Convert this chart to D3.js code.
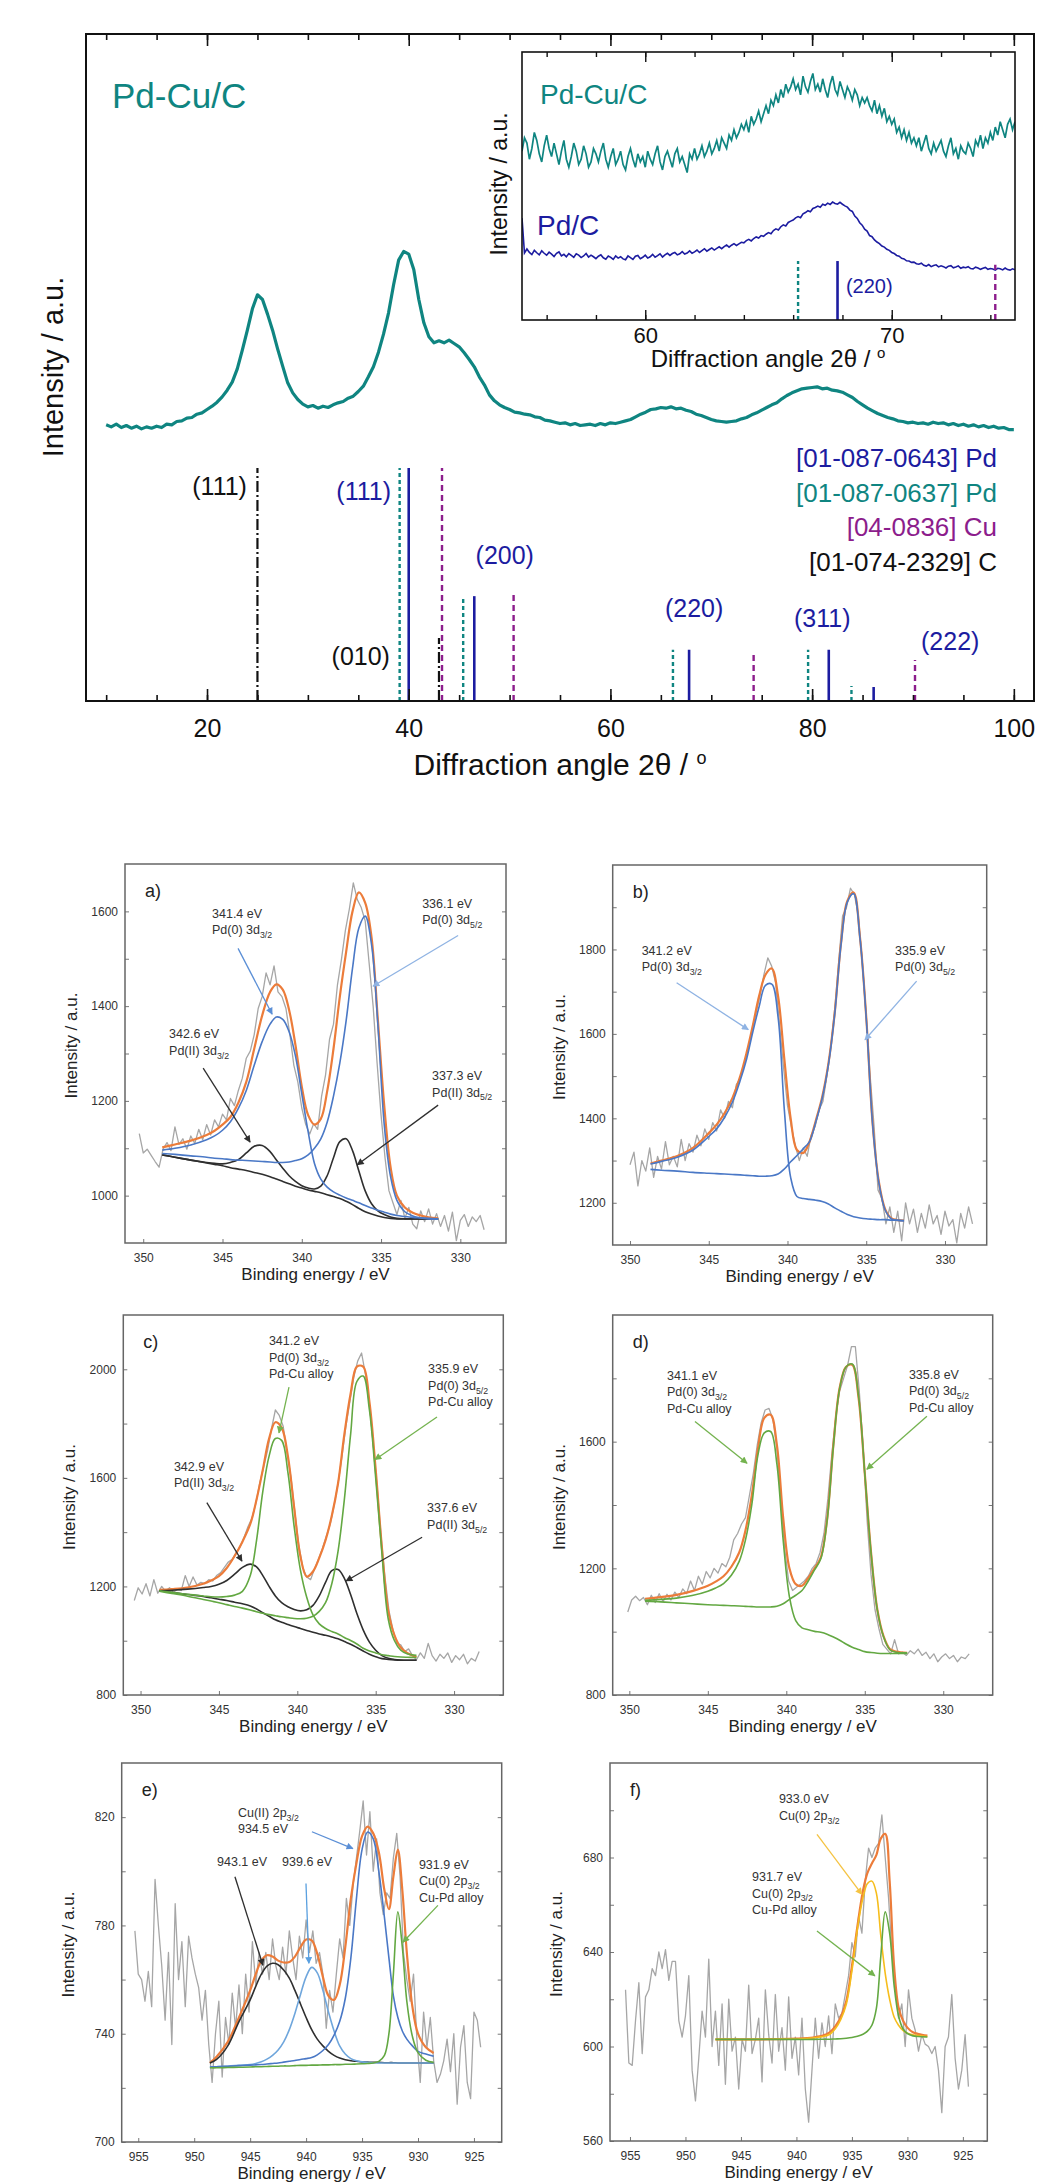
<!DOCTYPE html>
<html>
<head>
<meta charset="utf-8">
<title>Pd-Cu/C XRD and XPS</title>
<script src="https://cdn.jsdelivr.net/npm/d3@7"></script>
<style>
  body { margin: 0; background: #fff; }
  svg { display: block; font-family: "Liberation Sans", Arial, Helvetica, sans-serif; }
</style>
</head>
<body>
<svg id="fig" width="1043" height="2184"></svg>
<script>
// ---------- XRD data (Pd-Cu/C), 10-100 deg, 0.5 deg step ----------
var xrdStart = 10, xrdStep = 0.5;
var xrdPdCu = [
  41.4,41.1,41.5,41.0,41.3,40.9,41.2,40.8,41.1,40.9,
  41.2,41.0,41.5,41.4,41.9,42.0,42.4,42.5,43.0,43.2,
  43.7,44.2,44.8,45.6,46.6,47.8,49.8,52.6,55.6,58.8,
  60.9,60.2,58.0,55.6,52.8,50.2,47.7,46.2,45.2,44.5,
  44.1,44.3,43.9,44.2,44.0,44.4,44.7,44.9,45.4,45.7,
  46.4,47.2,48.6,50.1,52.3,55.0,58.2,62.4,66.1,67.4,
  67.0,64.7,60.2,56.7,54.6,53.7,54.0,53.7,54.1,53.6,
  53.1,52.2,51.2,50.1,48.6,47.4,45.9,45.0,44.4,44.0,
  43.7,43.3,43.2,43.0,42.9,42.6,42.5,42.1,42.0,41.8,
  41.6,41.7,41.4,41.6,41.3,41.4,41.5,41.3,41.6,41.4,
  41.7,41.6,41.8,42.0,42.2,42.6,43.0,43.3,43.7,43.8,
  44.0,43.9,44.1,43.8,43.9,43.6,43.4,43.0,42.8,42.5,
  42.2,42.0,41.9,41.8,41.9,42.0,42.3,42.5,42.9,43.2,
  43.6,44.0,44.4,44.7,45.3,45.8,46.2,46.5,46.8,46.9,
  47.0,47.1,46.8,46.9,46.6,46.5,46.3,45.9,45.5,44.9,
  44.4,43.9,43.5,43.1,42.8,42.5,42.3,42.0,41.9,41.7,
  41.8,41.6,41.7,41.5,41.8,41.6,41.7,41.4,41.6,41.3,
  41.5,41.2,41.4,41.1,41.3,41.0,41.2,40.9,41.0,40.7,
  40.7];

// inset, 55-75 deg, 0.1 deg step
var insetStart = 55, insetStep = 0.1;
var insetPdCu = [
  63,68,66,60,64,70,67,62,59,65, 69,64,61,66,62,58,63,67,60,57,
  61,66,63,58,60,65,62,57,59,64, 62,59,63,66,60,57,61,64,58,60,
  63,58,56,61,64,60,57,62,59,61, 57,63,60,58,62,65,59,56,61,63,
  60,57,62,64,59,61,58,55,62,60, 64,60,62,65,61,63,66,62,64,67,
  63,68,66,64,69,67,71,68,70,73, 71,74,70,76,73,75,78,74,77,80,
  77,82,80,84,81,86,83,88,85,87, 90,86,88,84,91,87,85,89,92,86,
  88,85,90,86,83,88,91,86,84,89, 86,83,87,85,82,86,84,80,83,81,
  83,80,78,82,77,80,76,79,74,76, 73,75,70,72,68,71,67,70,66,68,
  65,68,63,66,69,64,62,66,63,65, 67,63,61,65,68,62,64,60,65,63,
  62,66,64,61,67,65,69,64,68,66, 70,67,72,69,74,71,68,73,75,71,
  74];
var insetPd = [
  38,25,26.5,25.2,24.4,26,25.1,24.3,25.8,24.9, 24.2,25.3,24.6,23.7,24.9,25.4,23.9,24.5,23.6,24.8,
  24.1,23.4,24.7,24.2,23.3,23.9,24.8,23.5,24.2,23.6, 22.9,23.8,24.3,23.2,22.7,23.9,23.4,22.6,23.9,23.1,
  23.6,22.8,22.5,23.9,23.3,22.6,23.8,24.1,22.9,23.4, 24.2,23.1,23.6,24.5,23.4,24,24.7,23.5,24.3,24.9,
  24.1,24.8,25.2,24.3,24.7,25.5,24.6,25,25.8,24.9, 25.4,26.1,25.2,25.9,26.6,25.7,26.3,26.9,26.1,26.7,
  27.3,26.6,27.4,28,27.2,27.9,28.5,27.8,28.4,29, 28.8,29.6,30.1,29.5,30.4,31,30.6,31.5,31.2,32,
  32.6,32.2,33.4,34,33.6,34.8,35.5,35.1,36.4,36.9, 37.3,38.1,38.6,38.2,39.6,40.1,40.8,40.4,41.6,42,
  42.5,42.1,43.2,42.8,43.6,43.1,44,43.5,43.2,43.9, 43.2,42.6,42.1,41,40.5,38.8,37.9,36.3,35.4,33.9,
  33.2,31.5,31.1,29.9,29.1,28.5,27.6,27.2,26.4,26, 25.2,24.8,24.1,23.8,23,22.8,22.1,22,21.5,21.6,
  21,20.8,21.2,20.4,20.1,20.7,19.9,20.3,20.6,19.8, 20.2,19.9,19.4,20.1,20.3,19.5,19.8,20.2,19.3,19.7,
  19.5,19.9,19.2,19.1,19.7,19.4,18.9,19.3,19.6,18.9, 19.2,19,18.6,19.3,19.1,18.7,19.4,18.8,18.6,19.1,
  18.7];

// reference patterns (position in deg, relative intensity %)
var pdRefPos = [40.0, 46.5, 67.8, 81.65, 86.1];
var pdRefInt = [100, 45, 22, 22, 6];
var pdaRefPos = [39.1, 45.4, 66.2, 79.6, 83.9];
var pdaRefInt = [100, 45, 22, 22, 6.4];
var cuRefPos = [43.3, 50.4, 74.2, 90.2];
var cuRefInt = [100, 46, 20.6, 17.6];
var carbRefPos = [25.0, 43.0];
var carbRefInt = [100, 27];
var xrdTicks = [20, 40, 60, 80, 100];
var insetTicks = [60, 70];
var hklText = ["(111)", "(010)", "(111)", "(200)", "(220)", "(311)", "(222)"];
var hklPos  = [23.96, 38.14, 38.24, 46.63, 65.41, 78.2, 90.8];
var hklInt  = [88.4, 15.5, 86.3, 58.8, 36.1, 31.8, 21.9];
var hklIsC  = [true, true, false, false, false, false, false];
var legendText = ["[01-087-0643] Pd", "[01-087-0637] Pd", "[04-0836] Cu", "[01-074-2329] C"];

// ---------- XPS a) Pd 3d, Pd/C ----------
var aRawStart = 350.25, aRawStep = 0.25;
var aRaw = [1131,1090,1098,1085,1072,1060,1098,1112,1095,1145,1108,1120,1098,1126,1110,1140,1118,1150,1128,1160,
  1145,1172,1160,1205,1190,1222,1248,1290,1305,1340,1395,1420,1470,1445,1485,1430,1420,1395,1340,1275,
  1240,1185,1150,1130,1152,1140,1210,1255,1330,1362,1445,1498,1560,1605,1660,1625,1608,1580,1490,1400,
  1280,1170,1080,1010,985,960,990,952,975,940,930,968,945,972,940,962,935,958,925,965,
  905,948,960,935,955,945,958,928];
var aFitBE = [348.8,348,347,346,345.5,345,344.5,344,343.5,343,342.5,342,341.6,341.2,340.8,340.4,340,339.6,339.2,338.8,
  338.4,338,337.6,337.2,336.8,336.4,336,335.6,335.2,334.8,334.4,334,333.5,333,332.5,332,331.4];
var aEnv = [1102,1108,1116,1128,1137,1150,1166,1196,1240,1310,1380,1430,1446,1435,1392,1318,1230,1170,1150,1162,
  1220,1310,1420,1515,1600,1640,1618,1545,1370,1190,1060,1000,975,964,958,954,952];
var aPd0a = [1096,1100,1107,1118,1126,1138,1156,1184,1222,1275,1325,1362,1377,1372,1346,1295,1215,1135,1068,1035,
  1018,1008,1001,995,990,985,979,974,969,965,961,958,956,954,953,952,951];
var aPd0b = [1089,1087,1084,1081,1079,1078,1076,1075,1074,1073,1072,1071,1070,1070,1071,1074,1078,1086,1100,1120,
  1155,1210,1280,1370,1480,1565,1590,1530,1360,1150,1040,990,966,957,953,951,950];
var aPdII = [1086,1081,1075,1070,1068,1067,1070,1076,1090,1104,1106,1093,1075,1058,1042,1030,1021,1016,1014,1020,
  1042,1080,1114,1120,1095,1052,1010,983,968,960,955,952,951,951,951,951,951];
var aBg = [1086,1081,1075,1069,1066,1063,1059,1056,1053,1049,1045,1040,1035,1030,1025,1020,1016,1012,1009,1006,
  1002,998,994,988,981,973,966,961,957,954,952,951,951,951,951,951,951];

// ---------- XPS b) Pd 3d ----------
var bRawStart = 350.0, bRawStep = 0.25;
var bRaw = [1290,1320,1240,1300,1275,1330,1260,1310,1280,1345,1290,1310,1285,1350,1300,1340,1320,1360,1335,1375,
  1350,1390,1370,1420,1400,1440,1425,1480,1495,1530,1560,1610,1650,1690,1740,1780,1760,1720,1620,1520,
  1430,1380,1335,1300,1330,1310,1360,1380,1420,1440,1500,1570,1660,1770,1880,1900,1945,1930,1880,1770,
  1640,1500,1380,1230,1210,1150,1190,1130,1180,1110,1200,1150,1185,1130,1175,1140,1195,1150,1170,1125,
  1180,1145,1160,1105,1175,1140,1190,1150];
var bFitBE = [348.7,348,347,346,345,344.5,344,343.5,343,342.6,342.2,341.8,341.4,341,340.6,340.2,339.8,339.4,339,338.6,
  338.2,337.8,337.4,337,336.6,336.2,335.8,335.4,335,334.6,334.2,333.8,333.4,333,332.6];
var bEnv = [1293,1300,1311,1330,1365,1385,1412,1448,1500,1555,1620,1690,1740,1755,1690,1540,1400,1325,1318,1345,
  1395,1450,1530,1650,1815,1915,1935,1830,1640,1390,1250,1185,1163,1159,1158];
var bPd0a = [1292,1298,1308,1325,1357,1375,1402,1438,1490,1540,1605,1665,1715,1718,1640,1420,1260,1215,1210,1208,
  1206,1203,1197,1188,1180,1172,1167,1164,1162,1161,1160,1160,1159,1159,1158];
var bPd0b = [1279,1277,1275,1272,1270,1269,1268,1267,1266,1265,1264,1263,1263,1264,1268,1280,1297,1312,1328,1345,
  1392,1447,1527,1647,1812,1912,1932,1828,1638,1388,1248,1183,1162,1158,1157];

// ---------- XPS c) Pd 3d, Pd-Cu/C ----------
var cRawStart = 350.4, cRawStep = 0.25;
var cRaw = [1148,1195,1172,1210,1165,1225,1175,1200,1182,1195,1178,1190,1185,1240,1200,1235,1205,1215,1210,1225,
  1220,1240,1250,1270,1290,1300,1325,1345,1380,1420,1450,1505,1580,1640,1700,1780,1850,1830,1790,1690,
  1600,1470,1350,1270,1235,1225,1265,1300,1340,1385,1430,1500,1580,1680,1790,1880,1970,2030,2060,1980,
  1870,1720,1560,1380,1230,1110,1040,990,985,960,970,945,930,955,935,990,945,925,950,935,
  955,920,945,930,950,915,935,925,960];
var cFitBE = [348.8,348,347,346,345.5,345,344.5,344,343.5,343,342.6,342.2,341.8,341.4,341,340.6,340.2,339.8,339.4,339,
  338.6,338.2,337.8,337.4,337,336.6,336.2,335.8,335.4,335,334.6,334.2,333.8,333.4,333,332.4];
var cEnv = [1187,1190,1196,1210,1222,1238,1268,1312,1365,1430,1520,1630,1745,1805,1785,1680,1490,1310,1236,1255,
  1305,1370,1460,1580,1760,1910,2010,2010,1880,1630,1340,1110,1020,975,955,940];
var cPd0a = [1184,1178,1171,1165,1162,1161,1163,1168,1182,1240,1370,1550,1680,1745,1738,1620,1420,1260,1160,1095,
  1062,1045,1034,1025,1012,1001,988,972,962,955,948,945,942,940,939,938];
var cPd0b = [1182,1174,1164,1152,1146,1140,1133,1126,1120,1113,1107,1101,1096,1092,1088,1085,1082,1081,1083,1090,
  1108,1140,1210,1330,1520,1760,1955,1975,1850,1600,1320,1080,1000,965,952,946];
var cPdII = [1184,1186,1190,1196,1200,1208,1222,1245,1270,1282,1272,1240,1200,1165,1140,1125,1115,1110,1114,1130,
  1165,1215,1258,1262,1230,1170,1100,1040,995,965,945,935,931,929,928,928];
var cBg = [1184,1178,1170,1163,1158,1153,1148,1142,1136,1128,1117,1103,1090,1077,1068,1060,1052,1045,1038,1031,
  1025,1020,1014,1007,997,987,975,962,950,941,934,931,929,928,928,928];

// ---------- XPS d) Pd 3d ----------
var dRawStart = 350.1, dRawStep = 0.25;
var dRaw = [1062,1100,1112,1098,1108,1085,1115,1092,1120,1095,1118,1100,1125,1108,1135,1120,1160,1130,1175,1150,
  1190,1170,1200,1185,1215,1205,1235,1290,1310,1340,1360,1430,1500,1590,1660,1700,1705,1670,1580,1420,
  1260,1160,1130,1140,1150,1160,1175,1200,1215,1250,1310,1420,1560,1680,1760,1800,1840,1900,1900,1760,
  1580,1350,1180,1070,1010,960,945,930,975,930,935,925,940,930,945,925,935,915,930,905,
  920,930,915,925,905,920,915,930];
var dFitBE = [349,348,347,346,345,344.5,344,343.5,343,342.6,342.2,341.8,341.4,341,340.6,340.2,339.8,339.4,339,338.6,
  338.2,337.8,337.4,337,336.6,336.2,335.8,335.4,335,334.6,334.2,333.8,333.4,333,332.3];
var dEnv = [1104,1109,1116,1128,1145,1158,1175,1205,1250,1320,1430,1580,1675,1685,1590,1360,1200,1150,1145,1170,
  1200,1235,1355,1590,1770,1836,1843,1740,1500,1250,1070,985,945,937,933];
var dPd0a = [1099,1102,1106,1114,1128,1138,1152,1178,1222,1290,1400,1560,1628,1632,1530,1290,1110,1035,1012,1006,
  1001,998,992,983,973,961,951,944,937,934,932,931,931,931,931];
var dPd0b = [1096,1094,1091,1088,1085,1084,1083,1082,1081,1080,1079,1078,1078,1078,1080,1088,1102,1115,1130,1160,
  1195,1230,1350,1585,1768,1836,1845,1745,1500,1248,1068,983,943,935,933];

// ---------- XPS e) Cu 2p, Pd-Cu/C ----------
var eRawStart = 955.3, eRawStep = 0.3;
var eRaw = [778,762,760,752,763,750,797,780,765,745,770,736,788,760,774,750,776,768,762,757,
  745,756,736,722,740,752,724,746,736,755,742,758,740,762,748,774,758,770,762,770,
  760,775,765,760,772,762,778,768,760,776,768,782,770,778,766,770,762,742,756,748,
  762,775,768,790,780,795,805,815,826,806,822,800,812,792,784,792,790,805,814,798,
  770,760,752,762,738,722,748,735,746,730,722,725,730,738,726,740,714,735,743,722,
  716,748,745,735];
var eFitBE = [948.6,948,947,946,945,944.5,944,943.5,943,942.5,942,941.5,941,940.5,940,939.5,939,938.5,938,937.5,
  937,936.5,936,935.5,935,934.5,934,933.5,933,932.6,932.2,931.8,931.4,931,930.5,930,929.3,928.6];
var eEnv = [729.2,731.5,737,746,756,762,767,769,768.5,767,766.3,766.5,768.5,772,774.8,774.5,769.5,761,754,752.5,
  758,772,790,803,813,816.5,814,807,793,786,798,808,793,770,750,740,735,732.9];
var eCu943 = [729.2,730.5,735.5,744.5,752.5,757.5,762,765,766,765.5,763.5,760.5,756,751,746,741.5,738,735.5,733.5,732,
  731,730.4,730,729.8,729.6,729.5,729.4,729.4,729.3,729.3,729.3,729.2,729.2,729.2,729.2,729.2,729.2,729.2];
var eCu939 = [727.7,727.8,728,728.3,728.6,729,729.6,730.6,732,734,737,741.5,747.5,754.5,761,764.5,762.5,756,748,741,
  735.5,732.5,730.8,730,729.6,729.4,729.3,729.2,729.2,729.2,729.2,729.2,729.2,729.2,729.2,729.2,729.2,729.2];
var eCu934 = [727.7,727.8,728,728.2,728.4,728.5,728.6,728.8,729,729.2,729.5,729.8,730.1,730.5,730.8,731.2,732.2,733.8,736,739.5,
  744.5,753,768,790,808,814.5,812,800,783,768,754,746,741,738,735.5,733.5,732.5,731.7];
var eCu931 = [727.4,727.4,727.5,727.6,727.7,727.8,727.8,727.9,728,728,728.1,728.1,728.2,728.3,728.3,728.4,728.4,728.5,728.5,728.6,
  728.6,728.7,728.7,728.8,728.9,729,729.2,729.8,732,740,762,785,772,752,739,733,730.2,729.4];

// ---------- XPS f) Cu 2p ----------
var fRawStart = 955.4, fRawStep = 0.3;
var fRaw = [624,593,592,611,627,597,621,624,633,630,640,633,641,628,636,636,611,604,613,630,
  590,577,595,615,604,637,600,615,592,618,584,620,598,604,582,603,598,626,597,603,
  612,585,624,605,593,622,598,608,590,621,595,604,588,612,582,568,590,612,595,610,
  600,613,597,618,612,614,622,630,644,638,655,648,670,684,680,684,686,698,680,663,
  640,625,612,618,600,624,612,607,598,605,601,600,597,600,590,572,600,604,622,595,
  582,590,605,583];
var fFitBE = [947.3,946,944,942,940,938.5,937.5,937,936.5,936,935.5,935,934.5,934,933.6,933.2,932.8,932.4,932,931.6,
  931.2,930.8,930.4,930,929.5,929,928.2];
var fEnv = [603,603,603,603.1,603.3,603.8,604.8,606,608.5,612.5,619.4,634,651,666,673.5,677.5,681,688,690,670,
  634,616.6,611,608,606,605.3,604.6];
var fCu933 = [603,603,603,603.1,603.2,603.6,604.3,605.2,607.5,611.5,618,632,650,663,669,670,665,647,631,620,
  612.5,609,606.8,605.6,605,604.6,604.2];
var fCu931 = [603,603,603,603,603,603,603.1,603.1,603.2,603.3,603.5,603.8,604.3,605.2,606.5,609,616,638,657,648,
  626,613,607.5,605.5,604.5,604.2,604];

// ---------- colours / fonts ----------
var FONT = '"Liberation Sans", Arial, Helvetica, sans-serif';
var colTeal = "#0f8581", colNavy = "#1c1ca0", colPurple = "#8c1d8c", colBlack = "#111";
var colRaw = "#a6a6a6", colOrange = "#ec7c3a", colBlue = "#4a78c6", colLtBlue = "#6fa6dc",
    colGreen = "#63a842", colDark = "#2f2f2f", colYellow = "#f6bd1c";

var svg = d3.select("#fig");
var defs = svg.append("defs");
svg.append("rect").attr("width", 1043).attr("height", 2184).attr("fill", "#fff");

function arrowMarker(color) {
  var id = "ah" + color.replace("#", "");
  if (defs.select("#" + id).empty()) {
    defs.append("marker").attr("id", id).attr("viewBox", "0 0 10 10")
      .attr("refX", 9).attr("refY", 5).attr("markerWidth", 8).attr("markerHeight", 7)
      .attr("markerUnits", "userSpaceOnUse").attr("orient", "auto")
      .append("path").attr("d", "M0,0L10,5L0,10z").attr("fill", color);
  }
  return id;
}

// text with a trailing _{sub} part
function richText(sel, str, size) {
  str.split(/(_\{[^}]*\})/).forEach(function(p) {
    if (!p) return;
    if (p.indexOf("_{") === 0) {
      sel.append("tspan").attr("dy", size * 0.3).attr("font-size", size * 0.7).text(p.slice(2, -1));
    } else {
      sel.append("tspan").text(p);
    }
  });
}

function styleAxis(g, size, color) {
  g.selectAll(".domain").remove();
  g.selectAll(".tick text").filter(function() { return !this.textContent; }).remove();
  g.selectAll(".tick text").attr("font-size", size).attr("font-family", FONT).attr("fill", color);
}

// ================= XRD main panel =================
var xMain = d3.scaleLinear().domain([8, 102]).range([86, 1034]);
var yMain = d3.scaleLinear().domain([0, 100]).range([701, 34]);
var yStick = d3.scaleLinear().domain([0, 100]).range([701, 468]);

defs.append("clipPath").attr("id", "clipMain").append("rect")
  .attr("x", 86).attr("y", 34).attr("width", 948).attr("height", 667);

var main = svg.append("g");
var mainLine = d3.line()
  .x(function(d, i) { return xMain(xrdStart + i * xrdStep); })
  .y(function(d) { return yMain(d); });
main.append("path").attr("clip-path", "url(#clipMain)").attr("d", mainLine(xrdPdCu))
  .attr("fill", "none").attr("stroke", colTeal).attr("stroke-width", 3.2).attr("stroke-linejoin", "round");

var refSets = [
  { pos: carbRefPos, val: carbRefInt, color: colBlack, dash: "11,3,2,3", w: 2.2 },
  { pos: pdaRefPos, val: pdaRefInt, color: colTeal, dash: "4,3", w: 2.4 },
  { pos: cuRefPos, val: cuRefInt, color: colPurple, dash: "6,4", w: 2.4 },
  { pos: pdRefPos, val: pdRefInt, color: colNavy, dash: null, w: 2.6 }
];
refSets.forEach(function(s) {
  main.selectAll(null).data(s.pos).enter().append("line")
    .attr("x1", function(d) { return xMain(d); }).attr("x2", function(d) { return xMain(d); })
    .attr("y1", yStick(0)).attr("y2", function(d, i) { return yStick(s.val[i]); })
    .attr("stroke", s.color).attr("stroke-width", s.w).attr("stroke-dasharray", s.dash);
});

main.selectAll(null).data(hklText).enter().append("text")
  .attr("x", function(d, i) { return xMain(hklPos[i]); })
  .attr("y", function(d, i) { return yStick(hklInt[i]); })
  .attr("text-anchor", function(d, i) { return (i < 3) ? "end" : "start"; })
  .attr("font-size", 25).attr("fill", function(d, i) { return hklIsC[i] ? colBlack : colNavy; })
  .text(function(d) { return d; });

var legendColor = [colNavy, colTeal, colPurple, colBlack];
main.selectAll(null).data(legendText).enter().append("text")
  .attr("x", 997).attr("y", function(d, i) { return 467 + i * 34.5; })
  .attr("text-anchor", "end").attr("font-size", 26)
  .attr("fill", function(d, i) { return legendColor[i]; })
  .text(function(d) { return d; });

main.append("text").attr("x", 112).attr("y", 108).attr("font-size", 35).attr("fill", colTeal).text("Pd-Cu/C");

// axes (ticks point inward)
var axB = main.append("g").attr("transform", "translate(0,701)");
axB.append("g").call(d3.axisBottom(xMain).tickValues(d3.range(10, 101, 5)).tickSize(-6).tickFormat(""));
axB.append("g").call(d3.axisBottom(xMain).tickValues(xrdTicks).tickSize(-12).tickPadding(18).tickFormat(d3.format("d")));
styleAxis(axB, 25, "#111");
var axT = main.append("g").attr("transform", "translate(0,34)");
axT.append("g").call(d3.axisTop(xMain).tickValues(d3.range(10, 101, 5)).tickSize(-6).tickFormat(""));
axT.append("g").call(d3.axisTop(xMain).tickValues(xrdTicks).tickSize(-12).tickFormat(""));
styleAxis(axT, 25, "#111");
main.selectAll(".tick line").attr("stroke", "#111").attr("stroke-width", 1.6);

main.append("rect").attr("x", 86).attr("y", 34).attr("width", 948).attr("height", 667)
  .attr("fill", "none").attr("stroke", "#111").attr("stroke-width", 2);

var mt = main.append("text").attr("x", 560).attr("y", 775).attr("text-anchor", "middle")
  .attr("font-size", 30).attr("fill", "#111");
mt.append("tspan").text("Diffraction angle 2\u03b8 / ");
mt.append("tspan").attr("dy", -11).attr("font-size", 18).text("o");
main.append("text").attr("transform", "translate(63,367) rotate(-90)").attr("text-anchor", "middle")
  .attr("font-size", 29).attr("fill", "#111").text("Intensity / a.u.");

// ================= XRD inset =================
var xIn = d3.scaleLinear().domain([55, 75]).range([522, 1015]);
var yIn = d3.scaleLinear().domain([0, 100]).range([320, 52]);
var ins = svg.append("g");
ins.append("rect").attr("x", 522).attr("y", 52).attr("width", 493).attr("height", 268).attr("fill", "#fff");
defs.append("clipPath").attr("id", "clipIn").append("rect")
  .attr("x", 522).attr("y", 52).attr("width", 493).attr("height", 268);
var inLine = d3.line()
  .x(function(d, i) { return xIn(insetStart + i * insetStep); })
  .y(function(d) { return yIn(d); });
var inPlot = ins.append("g").attr("clip-path", "url(#clipIn)");
inPlot.append("path").attr("d", inLine(insetPdCu)).attr("fill", "none").attr("stroke", colTeal).attr("stroke-width", 1.7);
inPlot.append("path").attr("d", inLine(insetPd)).attr("fill", "none").attr("stroke", colNavy).attr("stroke-width", 1.6);
refSets.forEach(function(s) {
  var idx = s.pos.map(function(d, i) { return i; }).filter(function(i) { return s.pos[i] > 55 && s.pos[i] < 75; });
  inPlot.selectAll(null).data(idx).enter().append("line")
    .attr("x1", function(i) { return xIn(s.pos[i]); }).attr("x2", function(i) { return xIn(s.pos[i]); })
    .attr("y1", yIn(0)).attr("y2", function(i) { return yIn(s.val[i]); })
    .attr("stroke", s.color).attr("stroke-width", s.w).attr("stroke-dasharray", s.dash);
});
ins.append("text").attr("x", xIn(68.14)).attr("y", yIn(10.1)).attr("font-size", 20).attr("fill", colNavy).text("(220)");
ins.append("text").attr("x", 540).attr("y", 104).attr("font-size", 28).attr("fill", colTeal).text("Pd-Cu/C");
ins.append("text").attr("x", 537).attr("y", 235).attr("font-size", 28).attr("fill", colNavy).text("Pd/C");

var iaB = ins.append("g").attr("transform", "translate(0,320)");
iaB.append("g").call(d3.axisBottom(xIn).tickValues(d3.range(56, 75, 2)).tickSize(-5).tickFormat(""));
iaB.append("g").call(d3.axisBottom(xIn).tickValues(insetTicks).tickSize(-10).tickPadding(7).tickFormat(d3.format("d")));
styleAxis(iaB, 22, "#111");
var iaT = ins.append("g").attr("transform", "translate(0,52)");
iaT.append("g").call(d3.axisTop(xIn).tickValues(d3.range(56, 75, 2)).tickSize(-5).tickFormat(""));
iaT.append("g").call(d3.axisTop(xIn).tickValues(insetTicks).tickSize(-10).tickFormat(""));
styleAxis(iaT, 22, "#111");
ins.selectAll(".tick line").attr("stroke", "#111").attr("stroke-width", 1.4);
ins.append("rect").attr("x", 522).attr("y", 52).attr("width", 493).attr("height", 268)
  .attr("fill", "none").attr("stroke", "#111").attr("stroke-width", 1.6);
var it = ins.append("text").attr("x", 768).attr("y", 367).attr("text-anchor", "middle")
  .attr("font-size", 24).attr("fill", "#111");
it.append("tspan").text("Diffraction angle 2\u03b8 / ");
it.append("tspan").attr("dy", -9).attr("font-size", 15).text("o");
ins.append("text").attr("transform", "translate(507,184) rotate(-90)").attr("text-anchor", "middle")
  .attr("font-size", 23).attr("fill", "#111").text("Intensity / a.u.");

// ================= XPS panels =================
var panels = [
  { id: "a", box: [125, 506, 864, 1243], xDom: [351.15, 327.12], yDom: [900, 1700],
    xTicks: [350, 345, 340, 335, 330], yTicks: [1000, 1200, 1400, 1600], yMinor: [1100, 1300, 1500],
    raw: aRaw, rawStart: aRawStart, rawStep: aRawStep, fitX: aFitBE,
    series: [{ v: aEnv, c: colOrange, w: 2.2 }, { v: aBg, c: colDark }, { v: aPdII, c: colDark },
             { v: aPd0a, c: colBlue }, { v: aPd0b, c: colBlue }],
    notes: [[345.66, 1587, ["341.4 eV", "Pd(0) 3d_{3/2}"]], [332.41, 1608, ["336.1 eV", "Pd(0) 3d_{5/2}"]],
            [348.37, 1332, ["342.6 eV", "Pd(II) 3d_{3/2}"]], [331.78, 1244, ["337.3 eV", "Pd(II) 3d_{5/2}"]]],
    arrows: [[344.02, 1522, 341.87, 1383, "#5b8fd6"], [330.14, 1549, 335.51, 1442, "#8fb3e3"],
             [346.22, 1269, 343.26, 1113, colDark], [331.4, 1191, 336.5, 1065, colDark]] },
  { id: "b", box: [612.7, 986.7, 865, 1245], xDom: [351.1, 327.35], yDom: [1100, 2000],
    xTicks: [350, 345, 340, 335, 330], yTicks: [1200, 1400, 1600, 1800], yMinor: [1300, 1500, 1700, 1900],
    raw: bRaw, rawStart: bRawStart, rawStep: bRawStep, fitX: bFitBE,
    series: [{ v: bEnv, c: colOrange, w: 2.2 }, { v: bPd0a, c: colBlue }, { v: bPd0b, c: colBlue }],
    notes: [[349.26, 1788, ["341.2 eV", "Pd(0) 3d_{3/2}"]], [333.17, 1788, ["335.9 eV", "Pd(0) 3d_{5/2}"]]],
    arrows: [[347.04, 1721, 342.49, 1610, "#8fb3e3"], [331.8, 1725, 335.08, 1586, "#8fb3e3"]] },
  { id: "c", box: [123.3, 503.3, 1315, 1695], xDom: [351.1, 326.86], yDom: [800, 2200],
    xTicks: [350, 345, 340, 335, 330], yTicks: [800, 1200, 1600, 2000], yMinor: [1000, 1400, 1800],
    raw: cRaw, rawStart: cRawStart, rawStep: cRawStep, fitX: cFitBE,
    series: [{ v: cEnv, c: colOrange, w: 2.2 }, { v: cBg, c: colDark }, { v: cPdII, c: colDark },
             { v: cPd0a, c: colGreen }, { v: cPd0b, c: colGreen }],
    notes: [[341.81, 2088, ["341.2 eV", "Pd(0) 3d_{3/2}", "Pd-Cu alloy"]],
            [331.66, 1985, ["335.9 eV", "Pd(0) 3d_{5/2}", "Pd-Cu alloy"]],
            [347.87, 1627, ["342.9 eV", "Pd(II) 3d_{3/2}"]], [331.72, 1473, ["337.6 eV", "Pd(II) 3d_{5/2}"]]],
    arrows: [[340.53, 1934, 341.17, 1766, "#74b34f"], [331.09, 1824, 335.05, 1667, "#74b34f"],
             [345.77, 1509, 343.53, 1293, colDark], [332.04, 1381, 336.89, 1220, colDark]] },
  { id: "d", box: [612.7, 992.7, 1315, 1695], xDom: [351.06, 326.85], yDom: [800, 2000],
    xTicks: [350, 345, 340, 335, 330], yTicks: [800, 1200, 1600], yMinor: [1000, 1400, 1800],
    raw: dRaw, rawStart: dRawStart, rawStep: dRawStep, fitX: dFitBE,
    series: [{ v: dEnv, c: colOrange, w: 2.2 }, { v: dPd0a, c: colGreen }, { v: dPd0b, c: colGreen }],
    notes: [[347.6, 1796, ["341.1 eV", "Pd(0) 3d_{3/2}", "Pd-Cu alloy"]],
            [332.19, 1799, ["335.8 eV", "Pd(0) 3d_{5/2}", "Pd-Cu alloy"]]],
    arrows: [[345.82, 1664, 342.5, 1532, "#74b34f"], [331.04, 1680, 334.87, 1513, "#74b34f"]] },
  { id: "e", box: [121.7, 501.7, 1763, 2142], xDom: [956.48, 922.52], yDom: [700, 840],
    xTicks: [955, 950, 945, 940, 935, 930, 925], yTicks: [700, 740, 780, 820], yMinor: [720, 760, 800],
    raw: eRaw, rawStart: eRawStart, rawStep: eRawStep, fitX: eFitBE,
    series: [{ v: eEnv, c: colOrange, w: 2.2 }, { v: eCu943, c: colDark }, { v: eCu939, c: colLtBlue },
             { v: eCu934, c: colBlue }, { v: eCu931, c: colGreen }],
    notes: [[946.09, 820.1, ["Cu(II) 2p_{3/2}", "934.5 eV"]], [947.96, 802.1, ["943.1 eV"]],
            [942.15, 802.1, ["939.6 eV"]], [929.92, 801, ["931.9 eV", "Cu(0) 2p_{3/2}", "Cu-Pd alloy"]]],
    arrows: [[939.48, 814.6, 935.82, 808.4, "#5b8fd6"], [946.36, 798, 943.86, 765.3, colDark],
             [940.01, 795.5, 939.75, 766, "#5aa0e0"], [928.22, 787.4, 931.35, 773.8, "#74b34f"]] },
  { id: "f", box: [610, 987.3, 1763, 2141], xDom: [956.8, 922.8], yDom: [560, 720],
    xTicks: [955, 950, 945, 940, 935, 930, 925], yTicks: [560, 600, 640, 680], yMinor: [580, 620, 660, 700],
    raw: fRaw, rawStart: fRawStart, rawStep: fRawStep, fitX: fFitBE,
    series: [{ v: fEnv, c: colOrange, w: 2.2 }, { v: fCu933, c: colYellow }, { v: fCu931, c: colGreen }],
    notes: [[941.58, 702.9, ["933.0 eV", "Cu(0) 2p_{3/2}"]],
            [944.0, 670, ["931.7 eV", "Cu(0) 2p_{3/2}", "Cu-Pd alloy"]]],
    arrows: [[938.15, 689.8, 934.1, 664.4, "#f5c342"], [938.15, 648.9, 932.93, 629.9, "#74b34f"]] }
];

panels.forEach(function(p) {
  var b = p.box;
  var x = d3.scaleLinear().domain(p.xDom).range([b[0], b[1]]);
  var y = d3.scaleLinear().domain(p.yDom).range([b[3], b[2]]);
  var g = svg.append("g");
  var clipId = "clip-" + p.id;
  defs.append("clipPath").attr("id", clipId).append("rect")
    .attr("x", b[0]).attr("y", b[2]).attr("width", b[1] - b[0]).attr("height", b[3] - b[2]);
  var plot = g.append("g").attr("clip-path", "url(#" + clipId + ")");

  var rawLine = d3.line()
    .x(function(d, i) { return x(p.rawStart - i * p.rawStep); })
    .y(function(d) { return y(d); });
  plot.append("path").attr("d", rawLine(p.raw)).attr("fill", "none")
    .attr("stroke", colRaw).attr("stroke-width", 1.3).attr("stroke-linejoin", "round");

  var fitLine = d3.line()
    .x(function(d, i) { return x(p.fitX[i]); })
    .y(function(d) { return y(d); })
    .curve(d3.curveCatmullRom);
  p.series.forEach(function(s) {
    plot.append("path").attr("d", fitLine(s.v)).attr("fill", "none")
      .attr("stroke", s.c).attr("stroke-width", s.w || 1.6);
  });

  // axes with inward ticks
  var ax = g.append("g");
  ax.append("g").attr("transform", "translate(0," + b[3] + ")")
    .call(d3.axisBottom(x).tickValues(p.xTicks).tickSize(-4).tickPadding(10).tickFormat(d3.format("d")));
  ax.append("g").attr("transform", "translate(" + b[0] + ",0)")
    .call(d3.axisLeft(y).tickValues(p.yTicks).tickSize(-4).tickPadding(7).tickFormat(d3.format("d")));
  ax.append("g").attr("transform", "translate(" + b[0] + ",0)")
    .call(d3.axisLeft(y).tickValues(p.yMinor).tickSize(-4).tickFormat(""));
  ax.append("g").attr("transform", "translate(" + b[1] + ",0)")
    .call(d3.axisRight(y).tickValues(p.yTicks.concat(p.yMinor)).tickSize(-4).tickFormat(""));
  styleAxis(ax, 12, "#333");
  ax.selectAll(".tick line").attr("stroke", "#777");

  g.append("rect").attr("x", b[0]).attr("y", b[2]).attr("width", b[1] - b[0]).attr("height", b[3] - b[2])
    .attr("fill", "none").attr("stroke", "#666").attr("stroke-width", 1.5);

  g.append("text").attr("x", b[0] + 20).attr("y", b[2] + 33).attr("font-size", 18).attr("fill", "#222")
    .text(p.id + ")");
  g.append("text").attr("x", (b[0] + b[1]) / 2).attr("y", b[3] + 37).attr("text-anchor", "middle")
    .attr("font-size", 17).attr("fill", "#222").text("Binding energy / eV");
  g.append("text").attr("transform", "translate(" + (b[0] - 48) + "," + ((b[2] + b[3]) / 2 - 8) + ") rotate(-90)")
    .attr("text-anchor", "middle").attr("font-size", 17).attr("fill", "#222").text("Intensity / a.u.");

  p.arrows.forEach(function(a) {
    g.append("line").attr("x1", x(a[0])).attr("y1", y(a[1])).attr("x2", x(a[2])).attr("y2", y(a[3]))
      .attr("stroke", a[4]).attr("stroke-width", 1.3)
      .attr("marker-end", "url(#" + arrowMarker(a[4]) + ")");
  });
  p.notes.forEach(function(n) {
    n[2].forEach(function(line, i) {
      var t = g.append("text").attr("x", x(n[0])).attr("y", y(n[1]) + i * 16.5)
        .attr("font-size", 12.5).attr("fill", "#333");
      richText(t, line, 12.5);
    });
  });
});
</script>
</body>
</html>
